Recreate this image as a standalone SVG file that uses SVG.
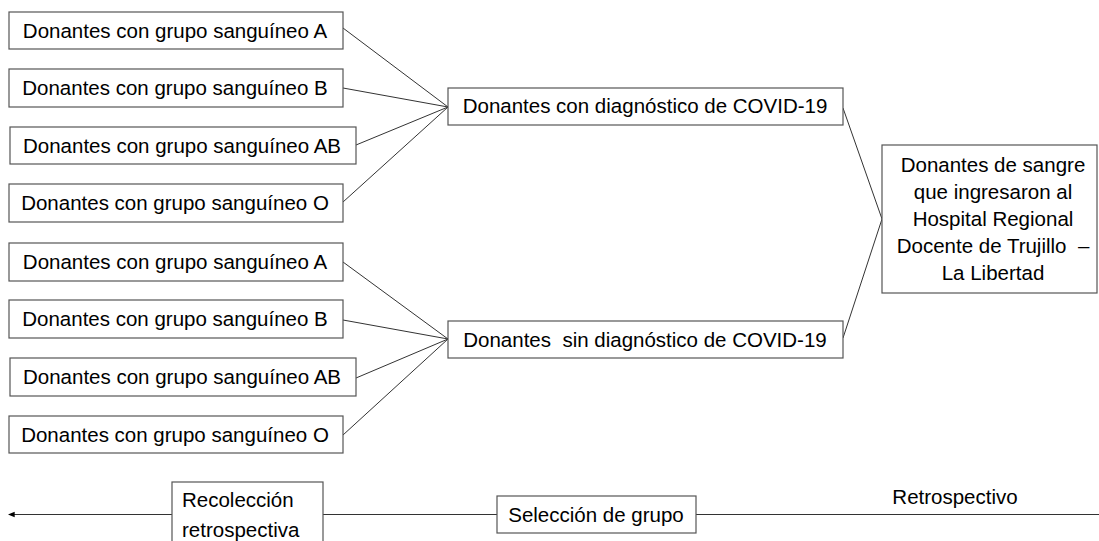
<svg xmlns="http://www.w3.org/2000/svg" width="1099" height="541" viewBox="0 0 1099 541">
  <style>
    .box { fill: #ffffff; stroke: #555555; stroke-width: 1.2; }
    .lbl { font-family: "Liberation Sans", Arial, sans-serif; font-size: 20.5px; fill: #000000; text-anchor: middle; }
    .left { text-anchor: start; }
    .edge { stroke: #333333; stroke-width: 1; fill: none; }
  </style>
  <defs>
    <marker id="arrow" viewBox="0 0 10 10" refX="1" refY="5" markerWidth="7" markerHeight="7" orient="auto-start-reverse">
      <path d="M 0 1 L 10 5 L 0 9 z" fill="#000000"/>
    </marker>
  </defs>
  <rect width="1099" height="541" fill="#ffffff"/>
  <g id="connectors">
    <line class="edge" x1="343" y1="28" x2="448" y2="107"/>
    <line class="edge" x1="343" y1="88" x2="448" y2="107"/>
    <line class="edge" x1="356" y1="145" x2="448" y2="107"/>
    <line class="edge" x1="343" y1="202" x2="448" y2="107"/>
    <line class="edge" x1="343" y1="262" x2="448" y2="339"/>
    <line class="edge" x1="343" y1="320" x2="448" y2="339"/>
    <line class="edge" x1="356" y1="378" x2="448" y2="339"/>
    <line class="edge" x1="343" y1="435" x2="448" y2="339"/>
    <line class="edge" x1="843" y1="108" x2="882" y2="219"/>
    <line class="edge" x1="843" y1="338" x2="882" y2="219"/>
    <line class="edge" x1="1099" y1="514.5" x2="14" y2="514.5" marker-end="url(#arrow)"/>
  </g>
  <g id="a1"><rect class="box" x="9" y="12" width="334" height="37"/><text class="lbl" x="175" y="38">Donantes con grupo sanguíneo A</text></g>
  <g id="b1"><rect class="box" x="9" y="69" width="334" height="38"/><text class="lbl" x="175" y="95">Donantes con grupo sanguíneo B</text></g>
  <g id="ab1"><rect class="box" x="10" y="127" width="346" height="37"/><text class="lbl" x="182" y="153">Donantes con grupo sanguíneo AB</text></g>
  <g id="o1"><rect class="box" x="9" y="184" width="334" height="38"/><text class="lbl" x="175" y="210">Donantes con grupo sanguíneo O</text></g>
  <g id="a2"><rect class="box" x="9" y="243" width="334" height="38"/><text class="lbl" x="175" y="269">Donantes con grupo sanguíneo A</text></g>
  <g id="b2"><rect class="box" x="9" y="300" width="334" height="38"/><text class="lbl" x="175" y="326">Donantes con grupo sanguíneo B</text></g>
  <g id="ab2"><rect class="box" x="10" y="358" width="346" height="38"/><text class="lbl" x="182" y="384">Donantes con grupo sanguíneo AB</text></g>
  <g id="o2"><rect class="box" x="9" y="416" width="334" height="37"/><text class="lbl" x="175" y="442">Donantes con grupo sanguíneo O</text></g>
  <g id="covid-con"><rect class="box" x="448" y="88" width="395" height="37"/><text class="lbl" x="645" y="113">Donantes con diagnóstico de COVID-19</text></g>
  <g id="covid-sin"><rect class="box" x="448" y="321" width="395" height="37"/><text class="lbl" x="645" y="347" xml:space="preserve">Donantes  sin diagnóstico de COVID-19</text></g>
  <g id="donantes"><rect class="box" x="882" y="145" width="215" height="148"/>
    <text class="lbl" x="993" y="172">Donantes de sangre</text>
    <text class="lbl" x="993" y="199">que ingresaron al</text>
    <text class="lbl" x="993" y="226">Hospital Regional</text>
    <text class="lbl" x="993" y="253" xml:space="preserve">Docente de Trujillo  –</text>
    <text class="lbl" x="993" y="280">La Libertad</text>
  </g>
  <g id="recoleccion"><rect class="box" x="172" y="482" width="151" height="70"/>
    <text class="lbl left" x="182" y="507">Recolección</text>
    <text class="lbl left" x="182" y="537">retrospectiva</text>
  </g>
  <g id="seleccion"><rect class="box" x="497" y="496" width="199" height="37"/><text class="lbl" x="596" y="522">Selección de grupo</text></g>
  <g id="retro"><text class="lbl" x="955" y="504">Retrospectivo</text></g>
</svg>
